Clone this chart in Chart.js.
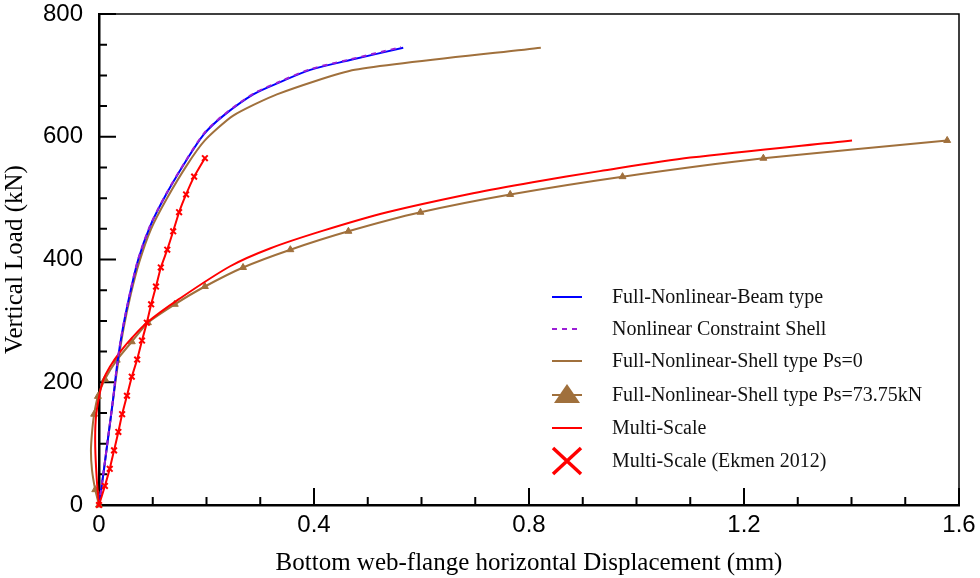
<!DOCTYPE html>
<html>
<head>
<meta charset="utf-8">
<script src="https://cdn.jsdelivr.net/npm/chart.js@4.4.1/dist/chart.umd.min.js"></script>
<style>
  body { margin: 0; background: #fff; }
</style>
</head>
<body>
<canvas id="grafico" width="980" height="578"></canvas>
<script>
// Datos (desplazamiento en mm, carga en kN)
const seriesNames = [
  'Full-Nonlinear-Beam type',
  'Nonlinear Constraint Shell',
  'Full-Nonlinear-Shell type Ps=0',
  'Full-Nonlinear-Shell type Ps=73.75kN',
  'Multi-Scale',
  'Multi-Scale (Ekmen 2012)'
];

const beamX = [0, 0.008, 0.017, 0.026, 0.035, 0.045, 0.058, 0.073, 0.095, 0.123, 0.160, 0.195, 0.231, 0.287, 0.337, 0.393, 0.467, 0.566];
const beamY = [0, 50, 110, 171, 237, 291, 346, 400, 454, 503, 558, 604, 634, 669, 689, 709, 725, 745];

const constraintX = [0, 0.008, 0.017, 0.026, 0.035, 0.045, 0.058, 0.073, 0.095, 0.123, 0.160, 0.195, 0.231, 0.287, 0.337, 0.393, 0.467, 0.562];
const constraintY = [0, 51, 111, 172, 238, 292, 347, 401, 455, 504, 559, 605, 635, 670, 690, 710, 726, 746];

const shell0X = [0, 0.008, 0.017, 0.026, 0.036, 0.046, 0.059, 0.075, 0.097, 0.126, 0.163, 0.197, 0.249, 0.331, 0.476, 0.822];
const shell0Y = [0, 50, 110, 170, 235, 289, 343, 396, 450, 499, 553, 594, 634, 669, 709, 745];

const shellPsX = [0, -0.007, -0.013, -0.015, -0.013, -0.009, -0.002, 0.011, 0.033, 0.061, 0.091, 0.141, 0.197, 0.268, 0.356, 0.464, 0.598, 0.765, 0.974, 1.236, 1.578];
const shellPsY = [0, 25, 57, 88, 118, 148, 177, 205, 236, 266, 297, 327, 356, 387, 416, 446, 477, 506, 535, 565, 594];

const multiX = [0, -0.004, -0.007, -0.006, 0, 0.008, 0.02, 0.039, 0.062, 0.089, 0.148, 0.244, 0.318, 0.417, 0.536, 0.696, 0.807, 0.932, 1.10, 1.401];
const multiY = [0, 40, 95, 140, 176, 204, 225, 249, 273, 297, 335, 389, 418, 447, 477, 508, 526, 544, 566, 594];

const ekmenX = [0, 0.011, 0.020, 0.028, 0.036, 0.043, 0.052, 0.061, 0.071, 0.080, 0.089, 0.097, 0.106, 0.115, 0.127, 0.138, 0.149, 0.162, 0.177, 0.197];
const ekmenY = [0, 31, 59, 89, 119, 148, 178, 209, 237, 268, 297, 327, 356, 387, 416, 446, 477, 506, 535, 565];

const xTickLabels = ['0', '0.4', '0.8', '1.2', '1.6'];
const yTickLabels = ['0', '200', '400', '600', '800'];

const MARRON = '#A0703C';

function pares(xs, ys) {
  return xs.map((x, i) => ({ x: x, y: ys[i] }));
}

// Marcas hacia dentro y marco superior/derecho
const marcasPlugin = {
  id: 'marcasInternas',
  beforeDatasetsDraw(chart) {
    const ctx = chart.ctx;
    const a = chart.chartArea;
    const sx = chart.scales.x;
    const sy = chart.scales.y;
    ctx.save();
    ctx.strokeStyle = '#000';
    ctx.lineWidth = 1.5;
    ctx.beginPath();
    ctx.moveTo(a.left, a.top);
    ctx.lineTo(a.right, a.top);
    ctx.lineTo(a.right, a.bottom);
    ctx.stroke();

    ctx.lineWidth = 2;
    ctx.beginPath();
    for (let i = 0; i <= 16; i++) {
      const y = sy.getPixelForValue(i * 50);
      const largo = (i % 4 === 0) ? 17 : 8;
      ctx.moveTo(a.left, y);
      ctx.lineTo(a.left + largo, y);
    }
    for (let i = 0; i <= 16; i++) {
      const x = sx.getPixelForValue(i * 0.1);
      const largo = (i % 4 === 0) ? 17 : 8;
      ctx.moveTo(x, a.bottom);
      ctx.lineTo(x, a.bottom - largo);
    }
    ctx.stroke();
    ctx.restore();
  }
};

// Leyenda dentro del area del grafico
const leyendaPlugin = {
  id: 'leyendaInterna',
  afterDatasetsDraw(chart) {
    const ctx = chart.ctx;
    const filas = [297, 329, 361, 395, 428, 461];
    const x0 = 552, x1 = 582, xt = 612;
    ctx.save();
    chart.data.datasets.forEach((ds, i) => {
      const y = filas[i];
      ctx.strokeStyle = ds.borderColor;
      ctx.lineWidth = 2;
      ctx.setLineDash(ds.borderDash || []);
      if (ds.pointStyle !== 'crossRot') {
        ctx.beginPath();
        ctx.moveTo(x0, y);
        ctx.lineTo(x1, y);
        ctx.stroke();
      }
      ctx.setLineDash([]);
      if (ds.pointStyle === 'triangle') {
        ctx.fillStyle = ds.pointBackgroundColor;
        ctx.beginPath();
        ctx.moveTo(567, y - 11);
        ctx.lineTo(580, y + 8);
        ctx.lineTo(554, y + 8);
        ctx.closePath();
        ctx.fill();
      }
      if (ds.pointStyle === 'crossRot') {
        ctx.lineWidth = 3.5;
        ctx.beginPath();
        ctx.moveTo(553, y - 13);
        ctx.lineTo(581, y + 13);
        ctx.moveTo(581, y - 13);
        ctx.lineTo(553, y + 13);
        ctx.stroke();
      }
      ctx.fillStyle = '#111';
      ctx.font = '20px "Liberation Serif", "Times New Roman", serif';
      ctx.textBaseline = 'middle';
      ctx.fillText(seriesNames[i], xt, y + 1);
    });
    ctx.restore();
  }
};

const ctx = document.getElementById('grafico').getContext('2d');

const grafico = new Chart(ctx, {
  type: 'scatter',
  data: {
    datasets: [
      {
        label: seriesNames[0],
        data: pares(beamX, beamY),
        showLine: true,
        borderColor: '#0000FF',
        borderWidth: 2,
        pointRadius: 0,
        tension: 0.3,
        order: 3
      },
      {
        label: seriesNames[1],
        data: pares(constraintX, constraintY),
        showLine: true,
        borderColor: '#9B1FD6',
        borderDash: [5, 5],
        borderWidth: 2,
        pointRadius: 0,
        tension: 0.3,
        order: 1
      },
      {
        label: seriesNames[2],
        data: pares(shell0X, shell0Y),
        showLine: true,
        borderColor: MARRON,
        borderWidth: 2,
        pointRadius: 0,
        tension: 0.2,
        order: 4
      },
      {
        label: seriesNames[3],
        data: pares(shellPsX, shellPsY),
        showLine: true,
        borderColor: MARRON,
        borderWidth: 2,
        pointStyle: 'triangle',
        pointRadius: 4,
        pointBackgroundColor: MARRON,
        pointBorderColor: MARRON,
        pointBorderWidth: 1,
        tension: 0.2,
        clip: false,
        order: 5
      },
      {
        label: seriesNames[4],
        data: pares(multiX, multiY),
        showLine: true,
        borderColor: '#FF0000',
        borderWidth: 2,
        pointRadius: 0,
        tension: 0.3,
        clip: false,
        order: 2
      },
      {
        label: seriesNames[5],
        data: pares(ekmenX, ekmenY),
        showLine: true,
        borderColor: '#FF0000',
        borderWidth: 2,
        pointStyle: 'crossRot',
        pointRadius: 4,
        pointBorderColor: '#FF0000',
        pointBorderWidth: 2,
        tension: 0.1,
        clip: false,
        order: 0
      }
    ]
  },
  options: {
    responsive: false,
    animation: false,
    devicePixelRatio: 1,
    events: [],
    layout: { padding: { top: 14, right: 21, left: 0, bottom: 0 } },
    plugins: {
      legend: { display: false },
      tooltip: { enabled: false }
    },
    scales: {
      x: {
        type: 'linear',
        min: 0,
        max: 1.6,
        grid: { display: false, drawTicks: false },
        border: { display: true, color: '#000', width: 2.5 },
        ticks: {
          stepSize: 0.4,
          padding: 6,
          color: '#000',
          font: { family: '"Liberation Sans", Arial, sans-serif', size: 24 },
          callback: (v, i) => xTickLabels[i]
        },
        title: {
          display: true,
          text: 'Bottom web-flange horizontal Displacement (mm)',
          color: '#000',
          font: { family: '"Liberation Serif", "Times New Roman", serif', size: 25 },
          padding: { top: 0, bottom: 0 }
        },
        afterFit: (s) => {
          s.height = 73;
          s.paddingLeft = 0;
          s.paddingRight = 0;
        }
      },
      y: {
        type: 'linear',
        min: 0,
        max: 800,
        grid: { display: false, drawTicks: false },
        border: { display: true, color: '#000', width: 2.5 },
        ticks: {
          stepSize: 200,
          padding: 16,
          color: '#000',
          font: { family: '"Liberation Sans", Arial, sans-serif', size: 24 },
          callback: (v, i) => yTickLabels[i]
        },
        title: {
          display: true,
          text: 'Vertical Load (kN)',
          color: '#000',
          font: { family: '"Liberation Serif", "Times New Roman", serif', size: 25 },
          padding: { top: 0, bottom: 0 }
        },
        afterFit: (s) => {
          s.width = 99;
          s.paddingTop = 0;
          s.paddingBottom = 0;
        }
      }
    }
  },
  plugins: [marcasPlugin, leyendaPlugin]
});
</script>
</body>
</html>
